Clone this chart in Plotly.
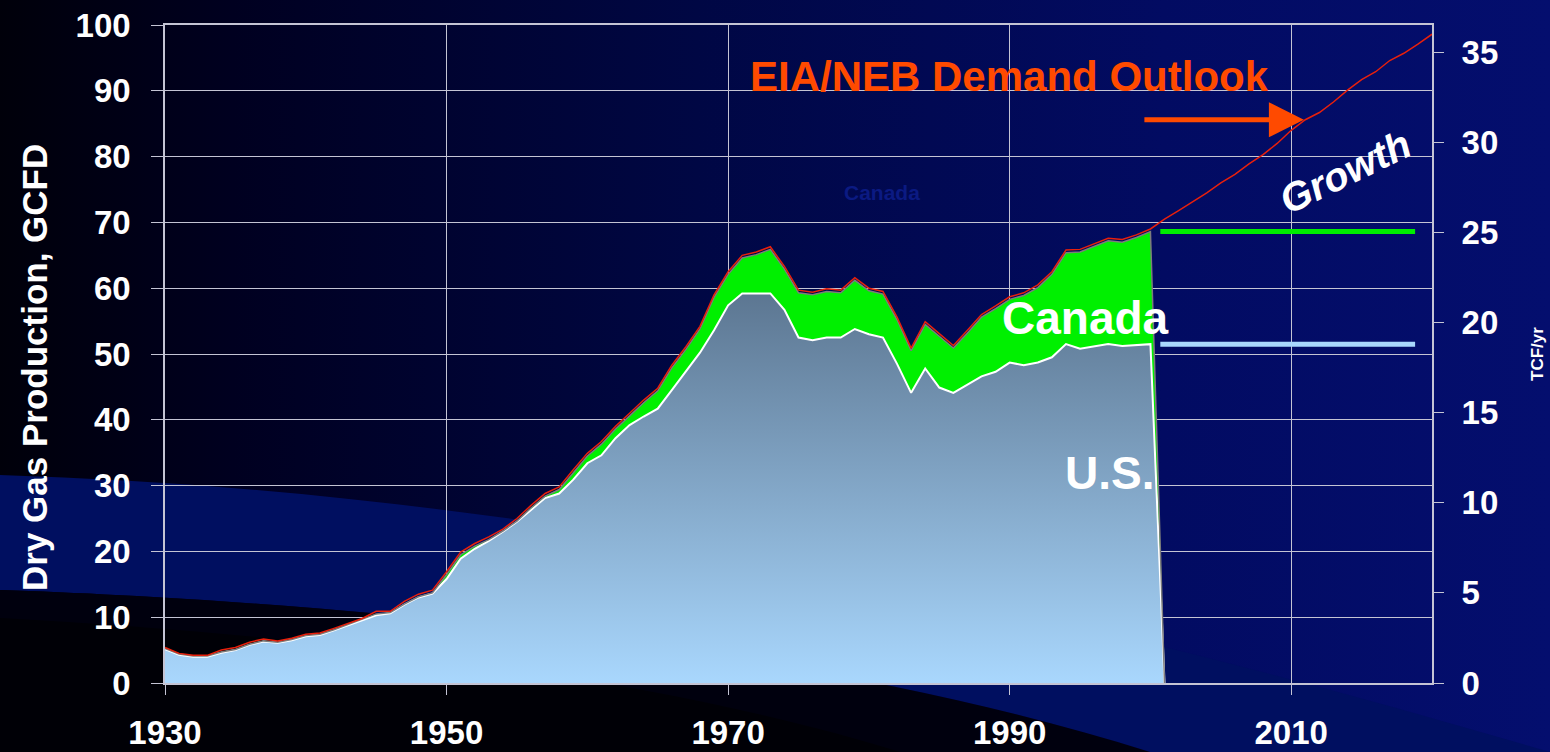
import base64
import numpy as np
import plotly.graph_objects as go

# ---- data ----
years = list(range(1930, 2002))

# U.S. dry gas production, GCFD (1930-2000, then the chart drops to 0 in 2001)
us_prod = [
    5.15, 4.3, 4.0, 4.0, 4.6, 5.0, 5.8, 6.3, 6.1, 6.5,
    7.1, 7.3, 8.0, 8.8, 9.5, 10.3, 10.6, 11.9, 13.0, 13.6,
    15.8, 18.9, 20.4, 21.6, 23.0, 24.5, 26.3, 28.1, 28.8, 30.9,
    33.4, 34.6, 37.2, 39.2, 40.5, 41.7, 44.5, 47.3, 50.2, 53.6,
    57.4, 59.2, 59.2, 59.2, 56.7, 52.5, 52.1, 52.5, 52.5, 53.8,
    53.0, 52.5, 48.5, 44.1, 47.8, 44.9, 44.1, 45.3, 46.6, 47.3,
    48.7, 48.3, 48.7, 49.5, 51.5, 50.8, 51.2, 51.5, 51.2, 51.3,
    51.5, 0.0,
]

# Canadian production stacked on top, GCFD
canada_prod = [
    0.1, 0.1, 0.1, 0.1, 0.1, 0.1, 0.1, 0.1, 0.1, 0.1,
    0.1, 0.1, 0.1, 0.1, 0.1, 0.2, 0.1, 0.1, 0.1, 0.1,
    0.7, 0.6, 0.4, 0.2, 0.1, 0.1, 0.3, 0.3, 0.6, 1.1,
    1.1, 1.7, 1.4, 1.4, 2.1, 2.7, 3.4, 3.4, 3.6, 5.0,
    4.7, 5.4, 5.9, 6.7, 6.2, 6.8, 6.9, 7.0, 6.8, 7.4,
    6.6, 6.6, 6.7, 6.4, 6.7, 7.8, 6.8, 7.9, 9.0, 9.6,
    9.6, 10.6, 11.4, 12.6, 13.9, 14.7, 15.2, 15.7, 15.8, 16.4,
    17.1, 0.0,
]

# EIA/NEB demand, history then outlook, GCFD
demand_years = list(range(1930, 2021))
demand = [
    5.4, 4.5, 4.2, 4.2, 5.0, 5.4, 6.2, 6.7, 6.4, 6.8,
    7.4, 7.6, 8.3, 9.1, 9.8, 10.9, 10.9, 12.4, 13.5, 14.1,
    16.9, 19.9, 21.2, 22.2, 23.4, 25.0, 27.0, 28.8, 29.8, 32.4,
    34.9, 36.7, 39.0, 41.0, 43.0, 44.8, 48.3, 51.1, 54.2, 59.0,
    62.5, 65.0, 65.5, 66.3, 63.3, 59.7, 59.4, 59.9, 59.7, 61.6,
    60.0, 59.5, 55.6, 50.9, 54.9, 53.1, 51.3, 53.6, 56.0, 57.3,
    58.7, 59.3, 60.5, 62.5, 65.8, 65.9, 66.8, 67.6, 67.4, 68.1,
    69.0,
    70.5, 71.8, 73.1, 74.5, 76.0, 77.3, 78.9, 80.3, 82.0, 84.0,
    85.6, 86.7, 88.3, 90.1, 91.7, 92.9, 94.6, 95.7, 97.1, 98.6,
]

# flat "held at 2000 level" markers to the right of the history
flat_span = [2000.7, 2018.8]

x_ticks = [1930, 1950, 1970, 1990, 2010]

FONT = "Liberation Sans, Arial, sans-serif"
GRID = "#c4c4d4"
WHITE = "#ffffff"
ORANGE = "#ff4a00"

# ---- background (gradient + swooshes), drawn as an inline svg ----
bg_svg = """<svg xmlns='http://www.w3.org/2000/svg' width='1550' height='752' viewBox='0 0 1550 752' preserveAspectRatio='none'>
<defs><linearGradient id='g' x1='0' x2='1' y1='0' y2='0'>
<stop offset='0' stop-color='#00000a'/>
<stop offset='0.15' stop-color='#000020'/>
<stop offset='0.45' stop-color='#000744'/>
<stop offset='0.75' stop-color='#020b62'/>
<stop offset='1' stop-color='#040e6e'/>
</linearGradient></defs>
<rect width='1550' height='752' fill='url(#g)'/>
<path d='M0,475 C500,490 1000,590 1550,752 L1150,752 C800,640 300,600 0,590 Z' fill='#000f60'/>
<path d='M0,590 C300,600 800,640 1150,752 L0,752 Z' fill='#00000e'/>
<path d='M0,618 C400,640 700,690 900,752 L0,752 Z' fill='#000006'/>
</svg>"""
bg_uri = "data:image/svg+xml;base64," + base64.b64encode(bg_svg.encode()).decode()

# margins (px) of the plot area
ML, MR, MT, MB = 165, 118, 25, 69
W, H = 1550, 752
pw, ph = W - ML - MR, H - MT - MB

us = np.array(us_prod)
total = us + np.array(canada_prod)

fig = go.Figure()

# U.S. area with vertical gradient
fig.add_trace(go.Scatter(
    x=years, y=us, mode="lines", fill="tozeroy",
    line=dict(color=WHITE, width=2),
    fillgradient=dict(type="vertical", start=0, stop=60,
                      colorscale=[[0, "#a9d7fd"], [1, "#5b7590"]]),
    hoverinfo="skip", showlegend=False,
))

# Canada stacked on top
fig.add_trace(go.Scatter(
    x=years, y=total, mode="lines", fill="tonexty", fillcolor="#00f000",
    line=dict(color="#7c7c7c", width=1.5),
    hoverinfo="skip", showlegend=False,
))

# flat lines at 2000 levels
fig.add_trace(go.Scatter(
    x=flat_span, y=[total[-2]] * 2, mode="lines",
    line=dict(color="#00ee00", width=5), hoverinfo="skip", showlegend=False,
))
fig.add_trace(go.Scatter(
    x=flat_span, y=[us[-2]] * 2, mode="lines",
    line=dict(color="#a9d7fd", width=5), hoverinfo="skip", showlegend=False,
))

# demand line
fig.add_trace(go.Scatter(
    x=demand_years, y=demand, mode="lines",
    line=dict(color="#e8200c", width=1.5), hoverinfo="skip", showlegend=False,
))

# invisible trace to carry the TCF/yr axis
fig.add_trace(go.Scatter(
    x=demand_years, y=np.array(demand) * 0.365, yaxis="y2", mode="lines",
    line=dict(width=0), opacity=0, hoverinfo="skip", showlegend=False,
))

tickfont = dict(family=FONT, size=33, color=WHITE, weight="bold")

fig.update_layout(
    width=W, height=H,
    margin=dict(l=ML, r=MR, t=MT, b=MB, autoexpand=False),
    paper_bgcolor="#000540",
    plot_bgcolor="rgba(0,0,0,0)",
    font=dict(family=FONT, color=WHITE),
    showlegend=False,
    images=[dict(
        source=bg_uri, xref="paper", yref="paper",
        x=-ML / pw, y=1 + MT / ph, sizex=W / pw, sizey=H / ph,
        xanchor="left", yanchor="top", sizing="stretch", layer="below",
    )],
    xaxis=dict(
        range=[1930, 2020], tickvals=x_ticks, showgrid=True, gridcolor=GRID, gridwidth=1,
        showline=True, linecolor=GRID, linewidth=1.5, mirror=True,
        ticks="outside", ticklen=10, tickcolor=GRID, tickfont=tickfont,
        ticklabelstandoff=10, zeroline=False, automargin=False,
    ),
    yaxis=dict(
        range=[0, 100], dtick=10, showgrid=True, gridcolor=GRID, gridwidth=1,
        showline=True, linecolor=GRID, linewidth=1.5, mirror=True,
        ticks="outside", ticklen=12, tickcolor=GRID, tickfont=tickfont,
        ticklabelstandoff=14, zeroline=False, automargin=False,
    ),
    yaxis2=dict(
        overlaying="y", side="right", range=[0, 36.5], dtick=5, showgrid=False,
        showline=False, ticks="outside", ticklen=11, tickcolor=GRID,
        tickfont=tickfont, ticklabelstandoff=11, zeroline=False, automargin=False,
    ),
)

ann_font = lambda size, color=WHITE, style="normal": dict(
    family=FONT, size=size, color=color, weight="bold", style=style)

fig.add_annotation(x=1990.0, y=92.2, text="EIA/NEB Demand Outlook", showarrow=False,
                   font=ann_font(42, ORANGE), xanchor="center", yanchor="middle")
fig.add_annotation(x=2010.9, y=85.6, ax=-161, ay=0, text="", showarrow=True,
                   arrowhead=2, arrowsize=1.4, arrowwidth=5, arrowcolor=ORANGE)
fig.add_annotation(x=2013.8, y=77.7, text="Growth", showarrow=False, textangle=-26,
                   font=ann_font(40, style="italic"), xanchor="center", yanchor="middle")
fig.add_annotation(x=1995.4, y=55.5, text="Canada", showarrow=False,
                   font=ann_font(46), xanchor="center", yanchor="middle")
fig.add_annotation(x=1997.1, y=31.9, text="U.S.", showarrow=False,
                   font=ann_font(46), xanchor="center", yanchor="middle")
fig.add_annotation(x=1980.9, y=74.5, text="Canada", showarrow=False,
                   font=ann_font(21, "#0b1a82"), xanchor="center", yanchor="middle")
fig.add_annotation(x=(35 - ML) / pw, y=(683 - 368) / ph, xref="paper", yref="paper",
                   text="Dry Gas Production, GCFD", showarrow=False, textangle=-90,
                   font=ann_font(35), xanchor="center", yanchor="middle")
fig.add_annotation(x=(1537 - ML) / pw, y=(683 - 354) / ph, xref="paper", yref="paper",
                   text="TCF/yr", showarrow=False, textangle=-90,
                   font=ann_font(17), xanchor="center", yanchor="middle")

fig.write_html(
    "out.html",
    config={"displayModeBar": False},
    post_script="document.body.style.margin='0';document.body.style.overflow='hidden';",
)
